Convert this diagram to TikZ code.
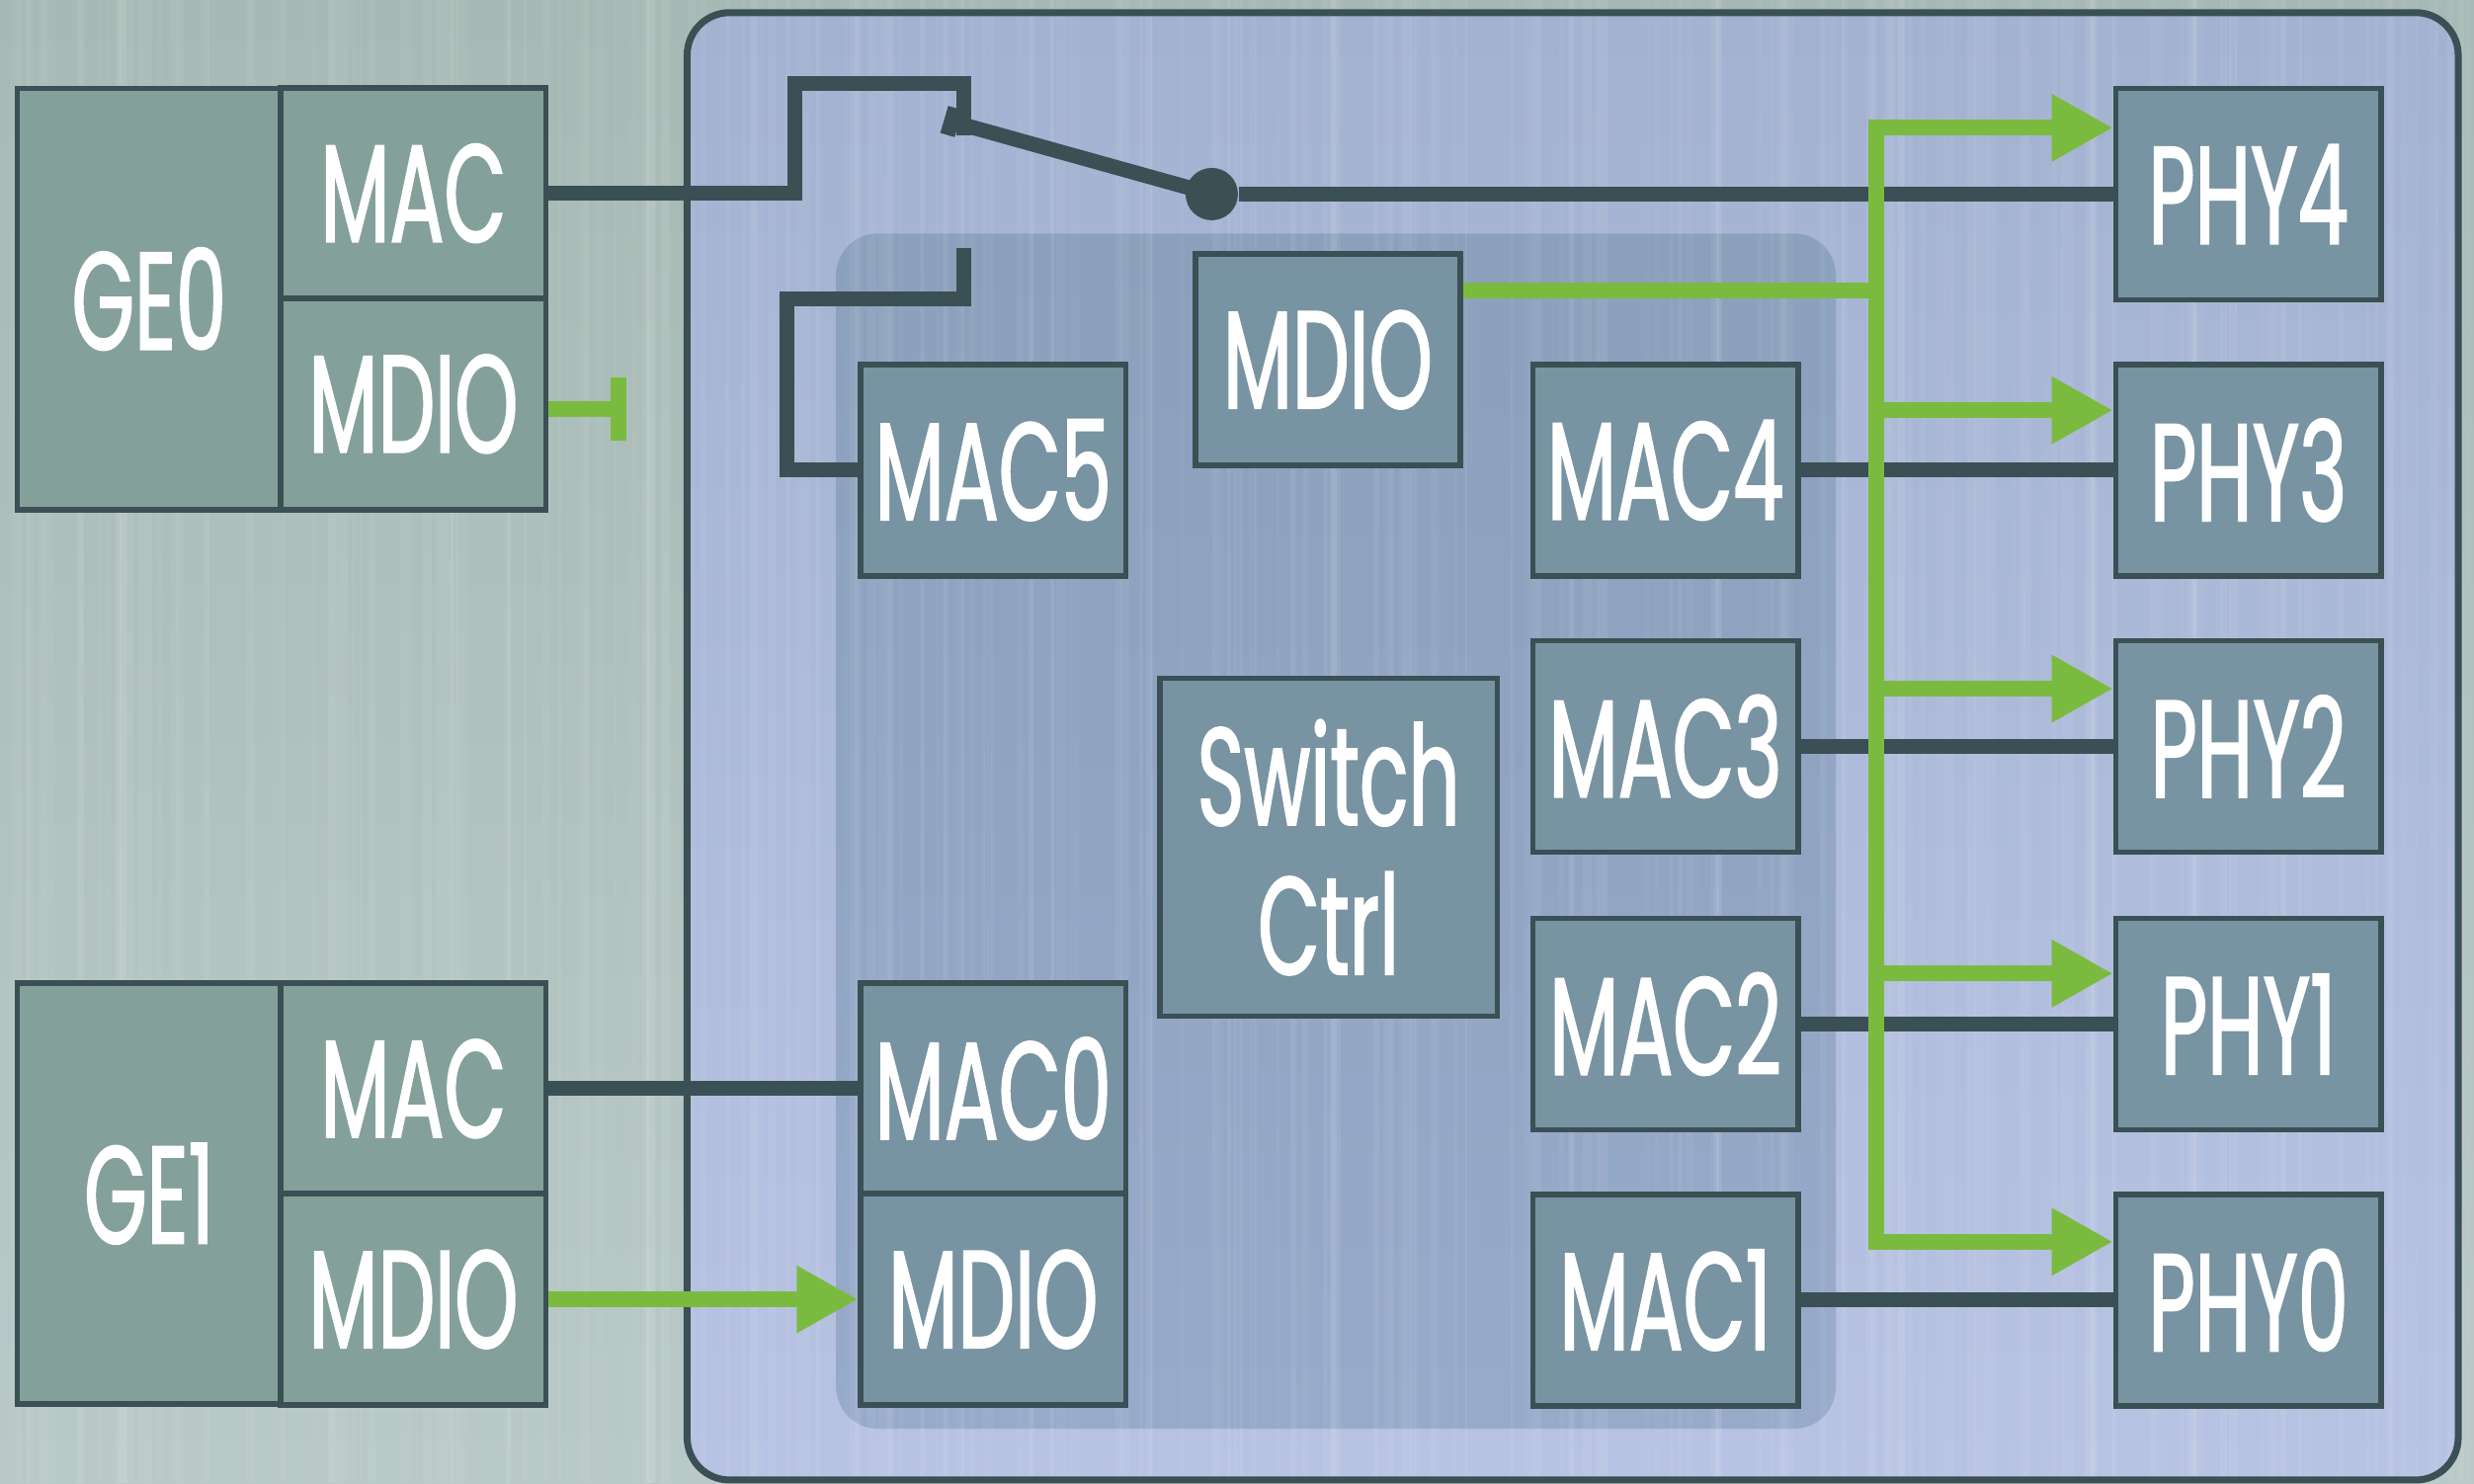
\documentclass[tikz,border=0pt]{standalone}
\usepackage{fontspec}
\setmainfont[FakeStretch=0.58, FakeBold=1.2]{Poppins}
\usetikzlibrary{arrows.meta}

\definecolor{bgtop}{HTML}{A6B9B4}
\definecolor{bgbot}{HTML}{B9C9C8}
\definecolor{chiptop}{HTML}{A2B2D0}
\definecolor{chipbot}{HTML}{B8C3E3}
\definecolor{coretop}{HTML}{8AA0BB}
\definecolor{corebot}{HTML}{97AACA}
\definecolor{slate}{HTML}{7893A2}
\definecolor{gefill}{HTML}{84A09B}
\definecolor{edge}{HTML}{3A5054}
\definecolor{lime}{HTML}{7ABB3F}

\newcommand{\lbl}{\fontsize{40}{43}\selectfont}

\tikzset{
  box/.style={draw=edge, line width=1.6pt, fill=slate, text=white, font=\lbl,
    minimum width=2.683cm, minimum height=2.14cm, inner sep=0pt, align=center},
  gebox/.style={box, fill=gefill},
  wire/.style={draw=edge, line width=4.3pt},
  gwire/.style={draw=lime, line width=4.5pt},
  garrow/.style={gwire, -{Triangle[length=0.62cm, width=0.64cm]}},
  dot/.style={circle, fill=edge, inner sep=0pt, minimum size=0.53cm},
}

\begin{document}
\begin{tikzpicture}[x=0.1597mm, y=-0.1597mm]
    \useasboundingbox (0,0) rectangle (1568,940);
    \clip (0,0) rectangle (1568,940);
    \shade[top color=bgtop, bottom color=bgbot] (0,0) rectangle (1568,940);
    \shade[top color=chiptop, bottom color=chipbot, rounded corners=0.43cm]
      (435.5,8) rectangle (1558,938);
    \shade[top color=coretop, bottom color=corebot, rounded corners=0.42cm]
      (530,148) rectangle (1163.5,905.5);
    \pgfmathsetseed{12}
    \foreach \i in {0,...,260} {
      \pgfmathsetmacro\sx{rnd*1568}
      \pgfmathsetmacro\sw{1+rnd*5}
      \pgfmathsetmacro\so{0.02+rnd*0.05}
      \fill[white, opacity=\so] (\sx,0) rectangle ++(\sw,940);
    }
    \draw[edge, line width=2pt, rounded corners=0.43cm] (435.5,8) rectangle (1558,938);

    \node[gebox, minimum width=2.667cm, minimum height=4.264cm] (ge0) at (94.5,189.5) {GE0};
    \node[gebox, minimum height=2.132cm] (ge0mac) at (262,122.5) {MAC};
    \node[gebox] (ge0mdio) at (262,256) {MDIO};
    \node[gebox, minimum width=2.667cm, minimum height=4.264cm] (ge1) at (94.5,756.5) {GE1};
    \node[gebox, minimum height=2.132cm] (ge1mac) at (262,690) {MAC};
    \node[gebox] (ge1mdio) at (262,823.5) {MDIO};

    \node[box] (mac5) at (629.5,298) {MAC5};
    \node[box] (smdio) at (841.5,228) {MDIO};
    \node[box, minimum width=3.418cm, minimum height=3.418cm] (ctrl) at (842,537) {Switch\\Ctrl};
    \node[box] (mac0) at (629.5,690) {MAC0};
    \node[box] (mdio0) at (629.5,823.5) {MDIO};
    \foreach \n/\y in {4/298, 3/473, 2/649, 1/824} {
      \node[box] (mac\n) at (1055.5,\y) {MAC\n};
    }
    \foreach \n/\y in {4/123, 3/298, 2/473, 1/649, 0/824} {
      \node[box] (phy\n) at (1425,\y) {PHY\n};
    }

    \node[dot] (pivot) at (768,123) {};
    \coordinate (sw1) at (611,86);
    \coordinate (sw2) at (611,157);
    \coordinate (lever) at (603,77);
    \draw[wire] (ge0mac.east) -| (504,53) -| (sw1);
    \draw[wire] (mac5.west) -| (499,189.5) -| (sw2);
    \draw[wire] (pivot.center) -- (lever);
    \draw[wire] ([shift={(2.5,-8.6)}]lever) -- ([shift={(-2.5,8.6)}]lever);
    \draw[wire] (pivot) -- (phy4);
    \draw[wire] (mac4) -- (phy3);
    \draw[wire] (mac3) -- (phy2);
    \draw[wire] (mac2) -- (phy1);
    \draw[wire] (mac1) -- (phy0);
    \draw[wire] (ge1mac) -- (mac0);

    \coordinate (tap) at (1189,184);
    \coordinate (term) at (392,259);
    \draw[gwire] (1189,81) -- (1189,787) [line cap=rect];
    \draw[gwire] (tap -| smdio.east) -- (tap);
    \foreach \n/\y in {4/81, 3/260, 2/436.5, 1/617, 0/787} {
      \draw[garrow] (1189,\y) -- (1189,\y -| phy\n.west);
    }
    \draw[gwire] (term -| ge0mdio.east) -- (term);
    \draw[gwire] ([yshift=0.32cm]term) -- ([yshift=-0.32cm]term);
    \draw[garrow] (ge1mdio) -- (mdio0);
\end{tikzpicture}
\end{document}
